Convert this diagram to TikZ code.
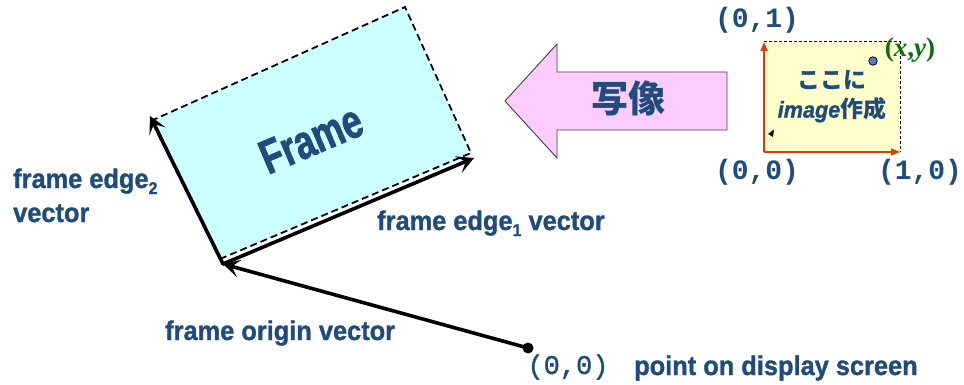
\documentclass[tikz,border=0pt]{standalone}
\usepackage{fontspec}
\setmainfont{Liberation Sans}
\newfontfamily\lblfont{Liberation Sans}[FakeStretch=0.94,FakeBold=1.2]
\newfontfamily\framefont{Liberation Sans}[FakeStretch=0.74,FakeBold=1.5]
\newfontfamily\cjk{Noto Sans CJK JP}
\newfontfamily\monofont{Liberation Mono}
\newfontfamily\monomid{Liberation Mono}[FakeBold=1.2]
\newfontfamily\xyfont{Liberation Serif}
\usetikzlibrary{arrows.meta}

\definecolor{textblue}{RGB}{31,76,124}
\definecolor{framecyan}{RGB}{204,255,255}
\definecolor{arrowpink}{RGB}{255,204,255}
\definecolor{pinkedge}{RGB}{70,60,70}
\definecolor{paleyellow}{RGB}{255,255,204}
\definecolor{axisred}{RGB}{214,64,8}
\definecolor{xygreen}{RGB}{10,110,10}
\definecolor{dotblue}{RGB}{85,130,190}

\tikzset{
  lbl/.style={inner sep=0pt, anchor=base west, text=textblue,
    font=\lblfont\bfseries\fontsize{27}{30}\selectfont},
  coordlbl/.style={inner sep=0pt, text=textblue,
    font=\monofont\bfseries\fontsize{28}{30}\selectfont},
  vec/.style={line width=3.6pt, line cap=round,
    -{Stealth[length=17pt,width=18pt,inset=8pt]}},
  axisvec/.style={line width=1.6pt, draw=axisred,
    -{Triangle[length=9pt,width=7pt]}},
  framebox/.style={fill=framecyan, draw=black, line width=1.8pt,
    dash pattern=on 7pt off 4pt},
}

\newcommand{\subnum}[1]{\raisebox{-6pt}{\fontsize{17}{17}\selectfont #1}}

\begin{document}
\begin{tikzpicture}[x=1pt,y=-1pt]
\useasboundingbox (0,0) rectangle (964,385);

% --- the frame on the display ---
\coordinate (FA) at (220,259);
\coordinate (FB) at (471,153);
\coordinate (FC) at (405,7);
\coordinate (FD) at (153,120);
\path[framebox] (FA) -- (FB) -- (FC) -- (FD) -- cycle;

\coordinate (O)  at (223,264);
\coordinate (E1) at (474,158);
\coordinate (E2) at (150,116);
\coordinate (P)  at (528,348);

\draw[vec] (O) -- (E1);
\draw[vec] (O) -- (E2);
\draw[vec] (P) -- (O);
\fill (P) circle (5.5pt);

\node[rotate=23, inner sep=0pt, text=textblue,
      font=\framefont\bfseries\fontsize{48}{48}\selectfont] (frame) at (311,139) {Frame};

% --- vector labels ---
\node[lbl] (e2a) at (13,188) {frame edge\subnum{2}};
\node[lbl] (e2b) at (13,222) {vector};
\node[lbl] (e1)  at (377,230) {frame edge\subnum{1} vector};
\node[lbl] (org) at (165,340) {frame origin vector};
\node[lbl] (scr) at (634,375) {point on display screen};
\node[inner sep=0pt, text=textblue, font=\monomid\fontsize{27}{30}\selectfont]
  (zero) at (568,367) {(0,0)};

% --- mapping arrow ---
\path[fill=arrowpink, draw=pinkedge, line width=0.9pt]
  (505,101) -- (557,44) -- (557,72) -- (727,72) -- (727,130)
  -- (557,130) -- (557,158) -- cycle;
\node[inner sep=0pt, text=textblue, font=\cjk\bfseries\fontsize{37}{37}\selectfont]
  (map) at (628,98) {写像};

% --- image space ---
\coordinate (IO) at (764,152);
\coordinate (IX) at (900,152);
\coordinate (IY) at (764,42);
\coordinate (IXY) at (900,42);
\fill[paleyellow] (IO) rectangle (IXY);
\draw[line width=1pt, dash pattern=on 3pt off 2pt] (IY) -- (IXY) -- (IX);
\draw[axisvec] (IO) -- (IY);
\draw[axisvec] (IO) -- (IX);
\fill (768,134) -- (774,129.5) -- (773,137) -- cycle;
\filldraw[fill=dotblue, draw=black!70!blue, line width=0.9pt] (873,61) circle (4.2pt);
\node[inner sep=0pt, text=xygreen, font=\xyfont\bfseries\fontsize{27}{28}\selectfont]
  (xy) at (910,50) {(\textit{x},\textit{y})};

\node[inner sep=0pt, text=textblue, font=\cjk\bfseries\fontsize{23}{24}\selectfont]
  (koko) at (832,80) {ここに};
\node[inner sep=0pt, text=textblue, font=\bfseries\fontsize{23}{24}\selectfont]
  (mk) at (832,110) {{\lblfont\itshape image}{\cjk 作成}};

\node[coordlbl] (c01) at (757,20)  {(0,1)};
\node[coordlbl] (c00) at (757,172) {(0,0)};
\node[coordlbl] (c10) at (920,172) {(1,0)};
\end{tikzpicture}
\end{document}
